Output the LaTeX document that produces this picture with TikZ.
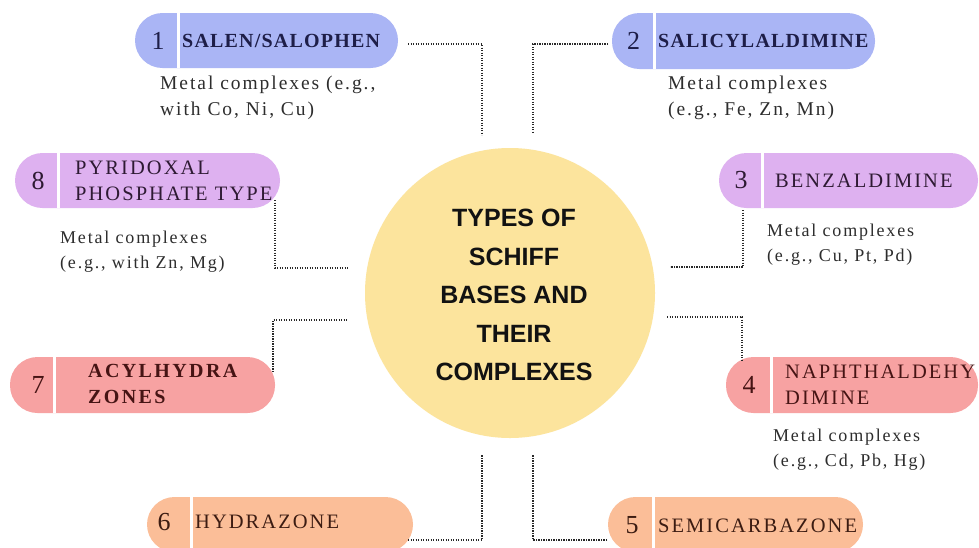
\documentclass[tikz,border=0pt]{standalone}
\usepackage{fontspec}
\setmainfont{Liberation Serif}
\newfontfamily\hubfont{Liberation Sans}
\newfontfamily\lblfont[LetterSpace=10]{Liberation Serif}
\newfontfamily\lblbfont[LetterSpace=6]{Liberation Serif}
\newfontfamily\lblcfont[LetterSpace=12]{Liberation Serif}
\newfontfamily\descfont[LetterSpace=10]{Liberation Serif}
\definecolor{pblue}{RGB}{170,181,245}
\definecolor{ppurple}{RGB}{222,177,240}
\definecolor{ppink}{RGB}{247,162,162}
\definecolor{ppeach}{RGB}{251,190,152}
\definecolor{hubyellow}{RGB}{252,228,157}
\definecolor{tblue}{RGB}{30,30,72}
\definecolor{tpurple}{RGB}{46,26,51}
\definecolor{tred}{RGB}{70,20,20}
\definecolor{tbrown}{RGB}{60,28,18}
\definecolor{descgray}{RGB}{45,45,45}
\definecolor{dotgray}{RGB}{40,40,40}
\begin{document}
\begin{tikzpicture}[x=1pt,y=-1pt,
  pill/.style={rectangle, rounded corners=27.5pt, draw=none, minimum height=55pt, inner sep=0pt},
  divider/.style={white, line width=3pt},
  num/.style={font=\fontsize{26}{30}\selectfont, inner sep=0pt},
  lbl/.style={anchor=west, inner sep=0pt, align=left, font=\lblfont\fontsize{20.5}{26}\selectfont},
  lblb/.style={anchor=west, inner sep=0pt, align=left, font=\lblbfont\bfseries\fontsize{20}{26}\selectfont},
  lblc/.style={anchor=west, inner sep=0pt, align=left, font=\lblcfont\bfseries\fontsize{20}{26}\selectfont},
  descA/.style={anchor=west, inner sep=0pt, align=left, text=descgray, font=\descfont\fontsize{19.5}{26}\selectfont},
  descB/.style={anchor=west, inner sep=0pt, align=left, text=descgray, font=\descfont\fontsize{18}{25}\selectfont},
  conn/.style={dotgray, line width=1.5pt, dash pattern=on 1.4pt off 1.1pt}
]
\useasboundingbox (0,0) rectangle (979,547);
\fill[white] (0,0) rectangle (979,547);
\begin{scope}
\clip (0,0) rectangle (979,547);

% hub
\node[circle, fill=hubyellow, minimum size=290pt, inner sep=0pt] (hub) at (510,293) {};
\node[align=center, inner sep=0pt, text=black!93, font=\hubfont\bfseries\fontsize{25}{38.5}\selectfont] (hubtext) at (514,295)
  {TYPES OF\\SCHIFF\\BASES AND\\THEIR\\COMPLEXES};

% pill 1
\node[pill, fill=pblue, minimum width=263pt] (p1) at (266.5,40.5) {};
\draw[divider] ([xshift=44pt]p1.north west) -- ([xshift=44pt]p1.south west);
\node[num, text=tblue] (n1) at (158,40.5) {1};
\node[lblb, text=tblue] (l1) at (182,40.5) {SALEN/SALOPHEN};
\node[descA] (d1) at (160,98) {Metal complexes (e.g.,\\with Co, Ni, Cu)};

% pill 2
\node[pill, fill=pblue, minimum width=263pt, minimum height=56pt] (p2) at (743.5,41) {};
\draw[divider] ([xshift=43pt]p2.north west) -- ([xshift=43pt]p2.south west);
\node[num, text=tblue] (n2) at (633.5,41) {2};
\node[lblb, text=tblue] (l2) at (658,41) {SALICYLALDIMINE};
\node[descA] (d2) at (668,97.5) {Metal complexes\\(e.g., Fe, Zn, Mn)};

% pill 8
\node[pill, fill=ppurple, minimum width=265pt] (p8) at (147.5,180.5) {};
\draw[divider] ([xshift=44pt]p8.north west) -- ([xshift=44pt]p8.south west);
\node[num, text=tpurple] (n8) at (38,180.5) {8};
\node[lbl, text=tpurple] (l8) at (75,180.5) {PYRIDOXAL\\PHOSPHATE TYPE};
\node[descB] (d8) at (60,252) {Metal complexes\\(e.g., with Zn, Mg)};

% pill 3
\node[pill, fill=ppurple, minimum width=259pt] (p3) at (848.5,180.5) {};
\draw[divider] ([xshift=44pt]p3.north west) -- ([xshift=44pt]p3.south west);
\node[num, text=tpurple] (n3) at (741,180.5) {3};
\node[lbl, text=tpurple] (l3) at (775,180.5) {BENZALDIMINE};
\node[descB] (d3) at (767,245) {Metal complexes\\(e.g., Cu, Pt, Pd)};

% pill 7
\node[pill, fill=ppink, minimum width=265pt, minimum height=56pt] (p7) at (142.5,385) {};
\draw[divider] ([xshift=45pt]p7.north west) -- ([xshift=45pt]p7.south west);
\node[num, text=tred] (n7) at (38,385) {7};
\node[lblc, text=tred] (l7) at (88,384) {ACYLHYDRA\\ZONES};

% pill 4
\node[pill, fill=ppink, minimum width=252pt, minimum height=56pt] (p4) at (852,385) {};
\draw[divider] ([xshift=46pt]p4.north west) -- ([xshift=46pt]p4.south west);
\node[num, text=tred] (n4) at (749,385) {4};
\node[lbl, text=tred] (l4) at (785,385) {NAPHTHALDEHY\\DIMINE};
\node[descB] (d4) at (773,450) {Metal complexes\\(e.g., Cd, Pb, Hg)};

% pill 6
\node[pill, fill=ppeach, minimum width=266pt] (p6) at (280,524.5) {};
\draw[divider] ([xshift=45pt]p6.north west) -- ([xshift=45pt]p6.south west);
\node[num, text=tbrown] (n6) at (164,522) {6};
\node[lbl, text=tbrown] (l6) at (195,522) {HYDRAZONE};

% pill 5
\node[pill, fill=ppeach, minimum width=255pt] (p5) at (735.5,524.5) {};
\draw[divider] ([xshift=46pt]p5.north west) -- ([xshift=46pt]p5.south west);
\node[num, text=tbrown] (n5) at (632,525) {5};
\node[lbl, text=tbrown] (l5) at (658,526) {SEMICARBAZONE};

% connector end points
\coordinate (s1) at (408,44);  \coordinate (e1) at (482,135);
\coordinate (s2) at (608,44);  \coordinate (e2) at (533,133);
\coordinate (s8) at (275,200); \coordinate (e8) at (348,268);
\coordinate (s3) at (743,210); \coordinate (e3) at (670,267);
\coordinate (s7) at (273,372); \coordinate (e7) at (347,320);
\coordinate (s4) at (667,317); \coordinate (e4) at (742,360);
\coordinate (s6) at (408,540); \coordinate (e6) at (482,455);
\coordinate (s5) at (607,540); \coordinate (e5) at (533,455);

\draw[conn] (s1) -| (e1);
\draw[conn] (s2) -| (e2);
\draw[conn] (s8) |- (e8);
\draw[conn] (s3) |- (e3);
\draw[conn] (s7) |- (e7);
\draw[conn] (s4) -| (e4);
\draw[conn] (s6) -| (e6);
\draw[conn] (s5) -| (e5);
\end{scope}
\end{tikzpicture}
\end{document}
